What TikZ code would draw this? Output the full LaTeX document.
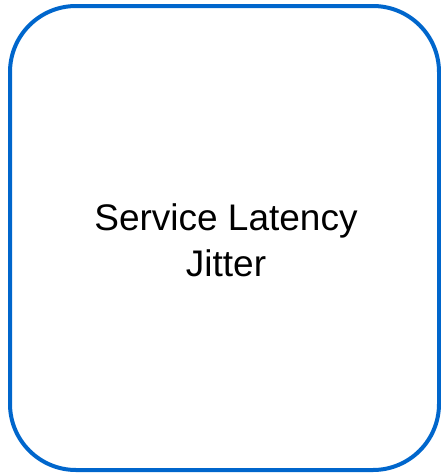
\documentclass[tikz,border=0pt]{standalone}
\usepackage{fontspec}
\setmainfont{Liberation Sans}
\usepackage{tikz}

\definecolor{boxblue}{RGB}{0,102,204}

\begin{document}
\begin{tikzpicture}[x=1pt,y=-1pt]
\tikzset{labelbox/.style={draw=boxblue,line width=4pt,rounded corners=66pt}}
\useasboundingbox (0,0) rectangle (441,474);
% outer rounded frame
\draw [labelbox] (10,6) rectangle (439,470);
\node (jitter) [align=center,font=\fontsize{37pt}{46pt}\selectfont,inner sep=0pt] at (226,240) {Service Latency\\Jitter};
\end{tikzpicture}
\end{document}
